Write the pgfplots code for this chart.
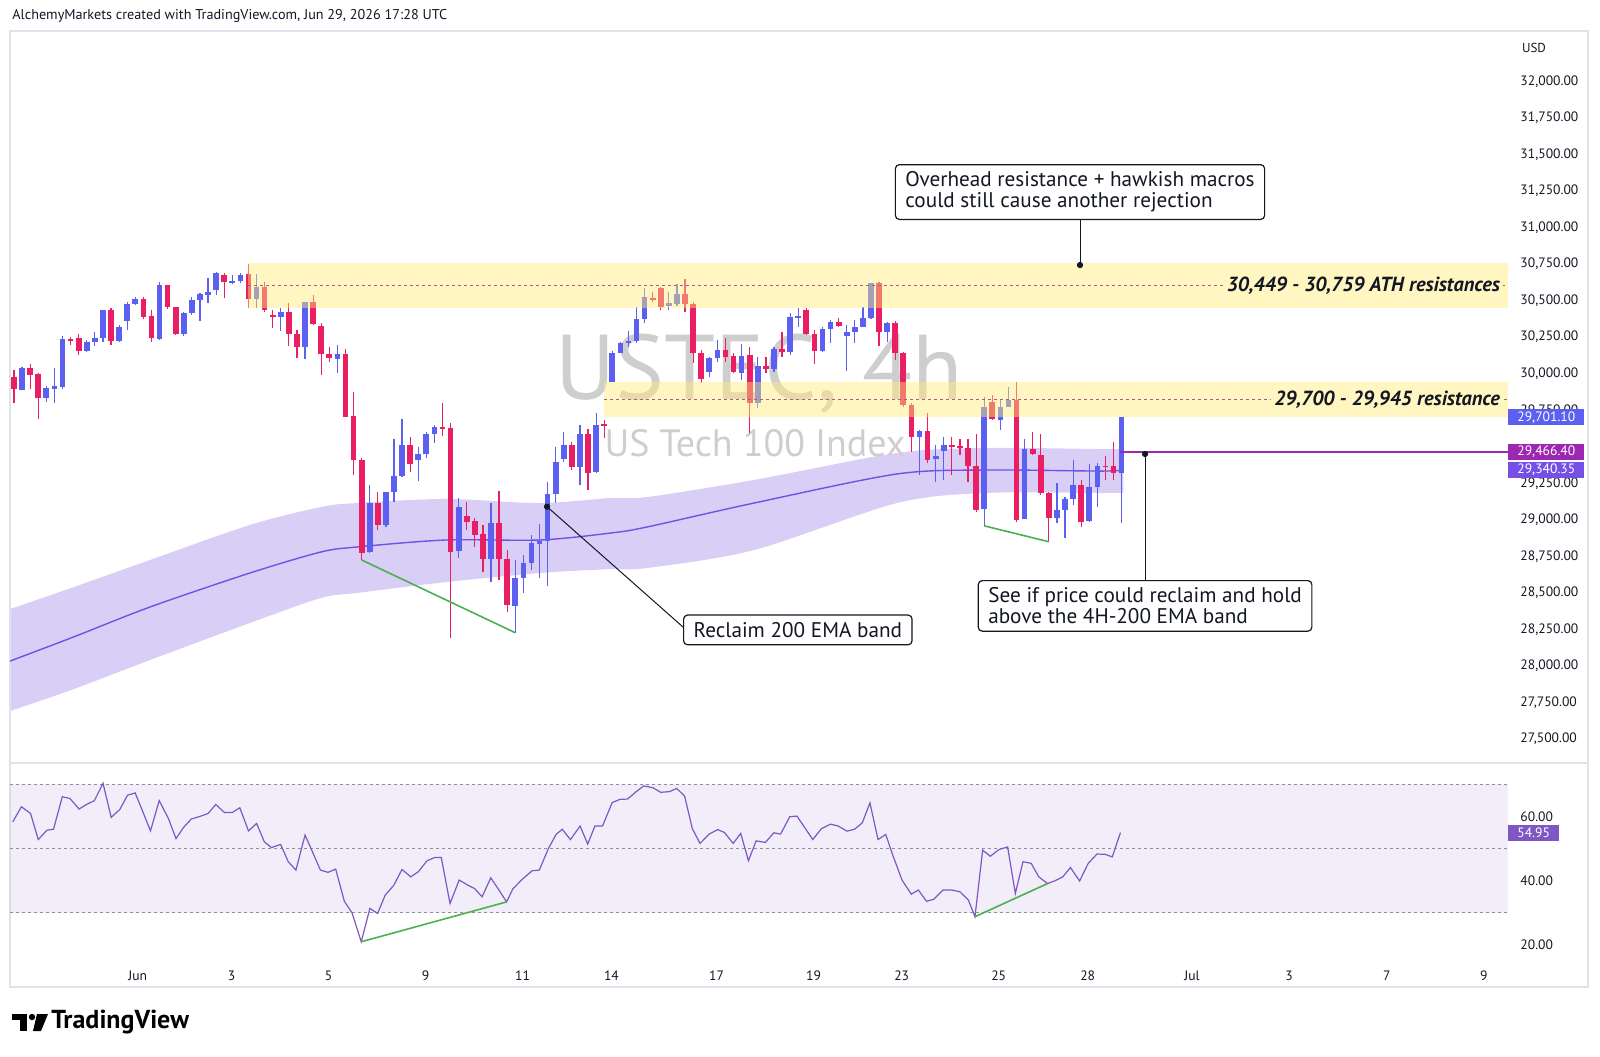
\documentclass[border=0pt]{standalone}
\usepackage{pgfplots}
\pgfplotsset{compat=1.18}
\usepackage{pgfplotstable}
\usepgfplotslibrary{fillbetween}
\usepackage{fontspec}
\setmainfont{PT Sans}
\definecolor{cblue}{RGB}{92,96,240}
\definecolor{cred}{RGB}{233,30,99}
\definecolor{zone}{RGB}{255,236,120}
\definecolor{zonebg}{RGB}{255,246,194}
\definecolor{bandc}{RGB}{216,206,246}
\definecolor{ema}{RGB}{118,80,230}
\definecolor{rsic}{RGB}{126,87,194}
\definecolor{tagmag}{RGB}{156,39,176}
\definecolor{gline}{RGB}{76,175,80}
\definecolor{framec}{RGB}{224,227,235}
\definecolor{txt}{RGB}{19,23,34}
\definecolor{dashc}{RGB}{170,90,140}
\definecolor{wm}{RGB}{206,206,206}
\definecolor{rsidash}{RGB}{140,143,154}

\pgfplotstableread{
i o h l c
2 29890 30047 29888 30041
5 29831 29917 29808 29904
6 29897 30036 29796 29917
7 29910 30260 29892 30237
10 30157 30230 30150 30214
11 30214 30287 30189 30246
12 30242 30436 30219 30436
14 30223 30333 30219 30317
15 30363 30493 30299 30479
16 30477 30527 30470 30509
19 30237 30630 30230 30607
22 30271 30424 30257 30413
23 30413 30527 30401 30502
24 30502 30550 30363 30543
25 30538 30652 30481 30561
26 30573 30698 30538 30691
28 30623 30675 30614 30636
29 30636 30687 30623 30675
31 30509 30682 30447 30591
34 30390 30447 30292 30420
37 30180 30493 30098 30493
41 30100 30196 30002 30132
45 28781 29237 28774 29112
47 28963 29192 28952 29187
48 29187 29552 29123 29301
49 29301 29689 29294 29511
51 29409 29500 29265 29447
52 29447 29598 29420 29587
53 29587 29648 29523 29637
56 28788 29146 28735 29089
60 28733 29116 28571 28975
63 28409 28724 28226 28598
64 28598 28758 28495 28701
65 28701 28895 28655 28838
66 28831 28968 28598 28854
67 28854 29260 28546 29174
68 29174 29500 29112 29393
69 29413 29603 29397 29511
71 29363 29648 29237 29585
73 29329 29728 29322 29648
75 29945 30158 29945 30144
76 30144 30219 30139 30212
77 30212 30294 30180 30224
78 30224 30459 30208 30374
79 30374 30584 30349 30527
82 30463 30562 30436 30482
83 30475 30614 30463 30546
87 30014 30112 29975 30105
88 30105 30231 30082 30162
91 30002 30203 29957 30121
93 29797 30112 29763 30055
95 30030 30180 30014 30167
97 30151 30413 30128 30386
98 30384 30452 30322 30395
101 30155 30322 30151 30304
102 30304 30368 30208 30352
104 30260 30333 30021 30288
105 30283 30368 30208 30317
106 30322 30459 30317 30379
107 30379 30619 30372 30619
109 30288 30356 30219 30349
113 29568 29614 29305 29609
115 29415 29511 29260 29435
116 29470 29568 29271 29511
121 29072 29837 28958 29773
123 29682 29824 29614 29773
124 29773 29910 29769 29819
126 29002 29556 29002 29481
130 29013 29253 28974 29066
131 29066 29157 28878 29141
132 29141 29408 29100 29237
134 28990 29381 28986 29221
135 29221 29385 29088 29369
138 29321 29705 28979 29701
}\upc

\pgfplotstableread{
i o h l c
1 29979 30025 29801 29892
3 30041 30063 29892 29993
4 29995 30002 29689 29831
8 30237 30253 30196 30226
9 30246 30271 30127 30157
13 30436 30447 30196 30223
17 30509 30527 30372 30390
18 30395 30436 30219 30242
20 30607 30607 30440 30454
21 30454 30459 30264 30271
27 30675 30691 30520 30630
30 30682 30751 30447 30509
32 30591 30630 30424 30436
33 30401 30436 30310 30390
35 30420 30481 30189 30271
36 30271 30299 30109 30180
38 30493 30538 30333 30340
39 30328 30344 29990 30132
40 30132 30184 30082 30109
42 30132 30166 29705 29705
43 29712 29877 29306 29409
44 29409 29420 28724 28769
46 29112 29192 28929 28963
50 29511 29568 29329 29381
54 29632 29801 29573 29621
55 29626 29664 28187 28781
57 29027 29123 28929 28982
58 28993 29009 28815 28895
59 28899 28963 28644 28733
61 28979 29199 28587 28733
62 28733 28792 28370 28416
70 29511 29534 29340 29363
72 29585 29619 29203 29317
74 29653 29683 29557 29644
80 30521 30562 30493 30505
81 30584 30596 30436 30454
84 30543 30646 30425 30477
85 30477 30493 30071 30144
86 30144 30162 29938 29961
89 30162 30242 30082 30116
90 30121 30139 30002 30014
92 30128 30180 29591 29797
94 30055 30116 30002 30030
96 30167 30283 30116 30146
99 30436 30447 30265 30272
100 30272 30299 30066 30155
103 30356 30379 30322 30329
108 30619 30630 30189 30288
110 30349 30363 30094 30144
111 30144 30151 29774 29785
112 29785 29797 29466 29569
114 29609 29728 29385 29408
117 29511 29568 29305 29500
118 29502 29550 29442 29488
119 29488 29556 29260 29369
120 29369 29586 29054 29066
122 29808 29853 29682 29687
125 29819 29945 28986 28997
127 29481 29602 29442 29449
128 29442 29586 29168 29180
129 29180 29191 28849 29013
133 29237 29271 28951 28986
136 29367 29435 29271 29358
137 29367 29534 29271 29321
}\downc

\tikzset{
  tickfont/.style={font=\fontsize{6.8}{8}\selectfont},
  annbox/.style={draw=txt, fill=white, rounded corners=2pt, line width=0.6pt, align=left,
    font=\fontsize{10.6}{10.4}\selectfont, text=txt, inner xsep=5pt, inner ysep=3.6pt},
  zlabel/.style={anchor=east, fill=zonebg, inner sep=1.5pt, text=txt,
    font=\fontsize{10.2}{11}\selectfont\bfseries\itshape},
  ptag/.style={anchor=west, text=white, inner xsep=4.5pt, inner ysep=1pt, minimum height=8pt,
    font=\fontsize{6.8}{8}\selectfont}
}

\begin{document}
\begin{tikzpicture}
\path (0,0) rectangle (800pt,-528pt);
\begin{scope}[x=0.5pt,y=-0.5pt]
\draw[framec, line width=0.6pt] (10,31) rectangle (1588,987);
\draw[framec, line width=0.6pt] (10,763) -- (1588,763);
\node[anchor=west, font=\fontsize{7.1}{8}\selectfont, text=txt, inner sep=0pt] at (12,16) {AlchemyMarkets created with TradingView.com, Jun 29, 2026 17:28 UTC};
\node[font=\fontsize{6.5}{8}\selectfont, text=txt] at (1534,48) {USD};
\fill[black] (12,1014) rectangle (27,1020);
\fill[black] (20,1014) rectangle (27,1031);
\fill[black] (32,1017) circle[radius=1.6pt];
\fill[black] (37,1014) -- (48,1014) -- (41,1031) -- (33,1031) -- cycle;
\node[anchor=west, font=\fontsize{13}{15}\selectfont\bfseries, inner sep=0pt] at (51,1022) {TradingView};
\end{scope}

%================ MAIN PRICE PANE =================
\begin{axis}[
  at={(5pt,-381pt)}, anchor=south west, width=749pt, height=365pt, scale only axis,
  xmin=0.505, xmax=185.79, ymin=27340.6, ymax=32339.7,
  axis line style={draw=none}, tick style={draw=none},
  xtick=\empty, scaled y ticks=false,
  ytick={27500,27750,28000,28250,28500,28750,29000,29250,29750,30000,30250,30500,30750,31000,31250,31500,31750,32000},
  yticklabel pos=right,
  yticklabel style={anchor=west, xshift=2.7pt, tickfont, text=txt,
    /pgf/number format/fixed, /pgf/number format/fixed zerofill,
    /pgf/number format/precision=2, /pgf/number format/1000 sep={,},
    /pgf/number format/assume math mode=true},
]
% watermark
\node[font=\fontsize{46}{46}\selectfont, text=wm, anchor=base] at (axis cs:93.2,29820) {USTEC, 4h};
\node[font=\fontsize{19}{19}\selectfont, text=wm, anchor=base] at (axis cs:92.65,29431) {US Tech 100 Index};

% EMA band
\addplot[name path=bandU, draw=none, smooth, tension=0.5] coordinates {
 (0.51,28388) (8.05,28532) (17.82,28724) (30.19,28964) (38.97,29087) (43.42,29114)
 (54.43,29142) (66.06,29114) (74.84,29149) (79.29,29155) (92.53,29272) (110.2,29457)
 (121.2,29491) (135.3,29484) (138.2,29484)};
\addplot[name path=bandL, draw=none, smooth, tension=0.5] coordinates {
 (0.51,27690) (8.05,27833) (17.82,28039) (30.19,28293) (38.97,28464) (43.42,28498)
 (54.43,28573) (66.06,28635) (74.84,28662) (79.29,28669) (92.53,28792) (110.2,29114)
 (121.2,29183) (135.3,29183) (138.2,29183)};
\addplot[fill=bandc, draw=none] fill between[of=bandU and bandL];
\addplot[ema, line width=0.7pt, smooth, tension=0.5] coordinates {
 (0.51,28032) (8.05,28190) (17.82,28402) (30.19,28635) (38.97,28779) (43.42,28813)
 (54.43,28861) (66.06,28861) (74.84,28909) (79.29,28950) (92.53,29114) (110.2,29313)
 (121.2,29340) (135.3,29333) (138.2,29340)};

% candles: wicks
\addplot[draw=none, mark=none, error bars/.cd, y dir=minus, y explicit, error mark=none,
  error bar style={line width=0.6pt, draw=cblue, solid}]
  table[x=i, y=h, y error minus expr=\thisrow{h}-\thisrow{l}] {\upc};
\addplot[draw=none, mark=none, error bars/.cd, y dir=minus, y explicit, error mark=none,
  error bar style={line width=0.6pt, draw=cred, solid}]
  table[x=i, y=h, y error minus expr=\thisrow{h}-\thisrow{l}] {\downc};
% candles: bodies
\addplot[draw=none, mark=none, error bars/.cd, y dir=minus, y explicit, error mark=none,
  error bar style={line width=2.85pt, line cap=butt, draw=cblue, solid}]
  table[x=i, y expr={max(\thisrow{o},\thisrow{c})}, y error minus expr={max(abs(\thisrow{c}-\thisrow{o}),8)}] {\upc};
\addplot[draw=none, mark=none, error bars/.cd, y dir=minus, y explicit, error mark=none,
  error bar style={line width=2.85pt, line cap=butt, draw=cred, solid}]
  table[x=i, y expr={max(\thisrow{o},\thisrow{c})}, y error minus expr={max(abs(\thisrow{c}-\thisrow{o}),8)}] {\downc};

% resistance zones
\addplot[fill=zone, fill opacity=0.45, draw=none] coordinates {(30,30449) (185.79,30449) (185.79,30759) (30,30759)} -- cycle;
\addplot[fill=zone, fill opacity=0.45, draw=none] coordinates {(73.97,29700) (185.79,29700) (185.79,29945) (73.97,29945)} -- cycle;
\addplot[dashc, line width=0.5pt, dash pattern=on 1.5pt off 1.5pt] coordinates {(30,30604) (185.79,30604)};
\addplot[dashc, line width=0.5pt, dash pattern=on 1.5pt off 1.5pt] coordinates {(73.97,29822.5) (185.79,29822.5)};
\node[zlabel] at (axis cs:185.2,30604) {30,449 - 30,759 ATH resistances};
\node[zlabel] at (axis cs:185.2,29822.5) {29,700 - 29,945 resistance};

% divergence lines
\addplot[gline, line width=0.8pt] coordinates {(44,28724) (63,28226)};
\addplot[gline, line width=0.8pt] coordinates {(121,28958) (129,28849)};

% current price line
\addplot[tagmag, line width=1pt] coordinates {(137.8,29466.4) (185.79,29466.4)};

% connectors
\addplot[txt, line width=0.5pt, mark=*, mark size=1.3pt, mark indices={2}] coordinates {(132.85,31052) (132.85,30744)};
\addplot[txt, line width=0.5pt, mark=*, mark size=1.3pt, mark indices={1}] coordinates {(66.93,29089) (83.75,28265)};
\addplot[txt, line width=0.5pt, mark=*, mark size=1.3pt, mark indices={2}] coordinates {(140.9,28587) (140.9,29450)};

% annotation boxes
\node[annbox, anchor=south] at (axis cs:132.85,31052) {Overhead resistance + hawkish macros\\could still cause another rejection};
\node[annbox, anchor=west] at (axis cs:83.75,28245) {Reclaim 200 EMA band};
\node[annbox, anchor=north] at (axis cs:140.9,28587) {See if price could reclaim and hold\\above the 4H-200 EMA band};

\coordinate (tA) at (axis cs:185.79,29701.1);
\coordinate (tB) at (axis cs:185.79,29466.4);
\coordinate (tC) at (axis cs:185.79,29340.35);
\end{axis}

\node[ptag, fill=cblue] at (tA) {29,701.10};
\node[ptag, fill=tagmag] at (tB) {29,466.40};
\node[ptag, fill=ema] at (tC) {29,340.35};

%================ RSI PANE =================
\begin{axis}[
  at={(5pt,-481pt)}, anchor=south west, width=749pt, height=99pt, scale only axis,
  xmin=0.505, xmax=185.79, ymin=14.7, ymax=76.3,
  axis line style={draw=none}, tick style={draw=none},
  xtick={16.31,27.9,39.9,51.9,63.9,74.9,87.9,99.9,110.8,122.8,133.8,146.7,158.7,170.8,182.8},
  xticklabels={Jun,3,5,9,11,14,17,19,23,25,28,Jul,3,7,9},
  xticklabel style={tickfont, text=txt, yshift=-1pt},
  ytick={20,40,60},
  yticklabel pos=right,
  yticklabel style={anchor=west, xshift=2.7pt, tickfont, text=txt,
    /pgf/number format/fixed, /pgf/number format/fixed zerofill,
    /pgf/number format/precision=2, /pgf/number format/assume math mode=true},
]
\addplot[fill=rsic, fill opacity=0.1, draw=none] coordinates {(0.505,30) (185.79,30) (185.79,70) (0.505,70)} -- cycle;
\addplot[rsidash, line width=0.5pt, dash pattern=on 1.5pt off 1.5pt] coordinates {(0.505,70) (185.79,70)};
\addplot[rsidash, line width=0.5pt, dash pattern=on 1.5pt off 1.5pt] coordinates {(0.505,50) (185.79,50)};
\addplot[rsidash, line width=0.5pt, dash pattern=on 1.5pt off 1.5pt] coordinates {(0.505,30) (185.79,30)};
\addplot[rsic, line width=0.6pt] coordinates {
(0.85,58.3) (1.92,63.0) (3.05,60.9) (4.00,52.8) (5.07,55.7) (5.89,56.0) (6.97,66.1) (7.91,65.6) (9.05,62.3) (9.96,63.7)
(10.94,64.9) (12.01,70.3) (13.02,59.7) (14.10,62.2) (15.04,66.6) (15.99,67.3) (16.94,61.4) (17.88,55.5) (18.96,64.9) (20.09,59.4)
(21.04,53.1) (21.98,56.6) (22.93,59.2) (23.88,59.9) (25.01,60.9) (25.96,63.7) (27.04,61.2) (27.98,61.2) (28.93,62.7) (30.00,55.5)
(31.01,57.8) (31.96,52.1) (32.84,50.3) (33.98,51.3) (34.92,45.9) (35.87,43.3) (37.00,54.2) (37.95,48.8) (38.90,43.3) (39.84,42.6)
(40.79,43.6) (41.86,33.6) (42.81,30.0) (43.95,21.0) (45.02,31.4) (45.97,29.8) (46.91,35.5) (47.98,38.6) (48.99,43.5) (50.07,41.2)
(51.01,42.8) (52.09,46.2) (53.03,47.2) (53.85,47.2) (54.93,32.9) (56.06,40.2) (57.13,38.6) (57.95,37.6) (58.90,35.0) (59.97,40.9)
(60.98,37.1) (61.93,33.4) (62.69,37.4) (63.76,40.2) (65.09,43.1) (65.97,43.3) (67.10,50.0) (68.05,54.4) (68.81,56.0) (69.82,52.8)
(71.02,57.0) (71.96,51.4) (72.85,57.0) (73.79,57.0) (74.99,64.3) (75.94,65.3) (76.89,65.4) (77.96,67.7) (78.90,69.5) (80.04,68.9)
(80.99,67.5) (82.06,67.7) (82.97,68.7) (83.95,66.3) (84.90,56.2) (85.85,51.6) (86.98,54.5) (88.05,55.9) (88.87,55.0) (89.95,51.6)
(90.89,54.7) (91.84,46.2) (92.79,52.4) (93.92,51.9) (94.99,54.9) (95.82,54.5) (96.95,59.9) (97.84,60.1) (99.80,52.8) (100.87,56.2)
(102.01,57.6) (102.95,57.0) (104.03,55.4) (104.97,56.0) (105.92,58.0) (106.87,64.2) (107.87,52.8) (108.82,54.4) (109.77,47.4) (110.84,40.2)
(111.98,35.8) (112.86,37.1) (113.87,33.6) (114.75,34.2) (115.89,37.1) (116.96,37.1) (117.97,36.6) (119.04,34.0) (119.86,28.8) (120.81,49.5)
(121.76,47.6) (122.83,49.7) (123.90,50.5) (124.85,36.0) (125.80,45.9) (126.81,45.4) (127.75,41.2) (128.83,39.1) (129.77,40.0) (130.72,41.2)
(131.67,44.1) (132.80,39.9) (133.87,45.4) (134.95,48.3) (135.96,48.2) (136.84,47.4) (137.85,54.95)};
\addplot[gline, line width=0.8pt] coordinates {(43.95,21.0) (61.93,33.4)};
\addplot[gline, line width=0.8pt] coordinates {(119.86,28.8) (128.83,39.1)};
\coordinate (tR) at (axis cs:185.79,54.95);
\end{axis}
\node[ptag, fill=rsic] at (tR) {54.95};
\end{tikzpicture}
\end{document}
